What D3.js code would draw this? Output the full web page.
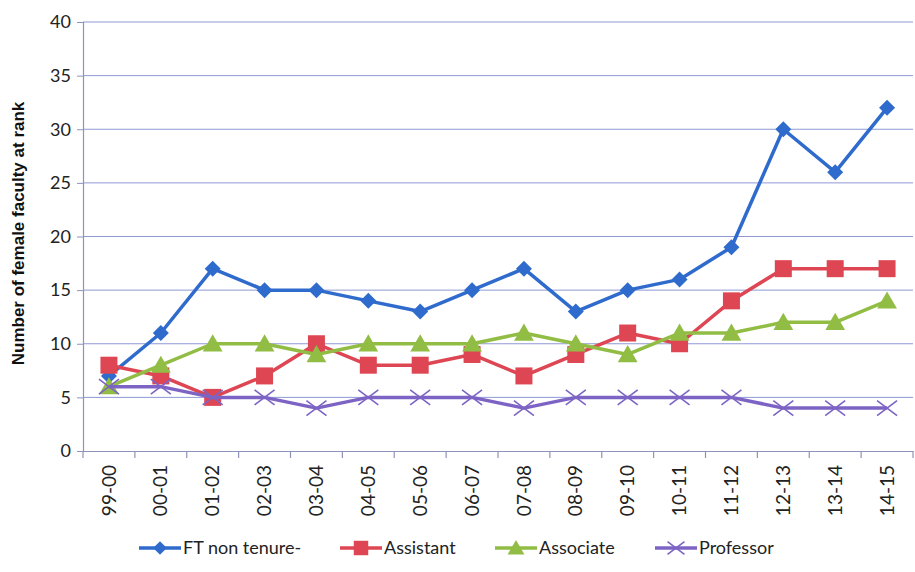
<!DOCTYPE html>
<html>
<head>
<meta charset="utf-8">
<script src="https://cdn.jsdelivr.net/npm/d3@7"></script>
<style>
  html, body { margin: 0; padding: 0; background: #fff; }
  svg { display: block; }
</style>
</head>
<body>
<svg id="chart" width="915" height="572"></svg>
<script>
// Academic years on the category axis
const years = ["99-00","00-01","01-02","02-03","03-04","04-05","05-06","06-07",
               "07-08","08-09","09-10","10-11","11-12","12-13","13-14","14-15"];

// Female faculty counts per rank
const ftNonTenure = [7, 11, 17, 15, 15, 14, 13, 15, 17, 13, 15, 16, 19, 30, 26, 32];
const assistant   = [8, 7, 5, 7, 10, 8, 8, 9, 7, 9, 11, 10, 14, 17, 17, 17];
const associate   = [6, 8, 10, 10, 9, 10, 10, 10, 11, 10, 9, 11, 11, 12, 12, 14];
const professor   = [6, 6, 5, 5, 4, 5, 5, 5, 4, 5, 5, 5, 5, 4, 4, 4];

const yTicks = [0, 5, 10, 15, 20, 25, 30, 35, 40];
const seriesNames = ["FT non tenure-", "Assistant", "Associate", "Professor"];

const series = [
  { name: seriesNames[0], values: ftNonTenure, color: "#2f6bcc", marker: "diamond" },
  { name: seriesNames[1], values: assistant,   color: "#dd4652", marker: "square" },
  { name: seriesNames[2], values: associate,   color: "#92bd45", marker: "triangle" },
  { name: seriesNames[3], values: professor,   color: "#7d64c4", marker: "cross" }
];

const svg = d3.select("#chart");
const plotLeft = 83, plotRight = 913, plotTop = 22, plotBottom = 451;

const x = d3.scaleBand().domain(years).range([plotLeft, plotRight]).paddingInner(0).paddingOuter(0);
const y = d3.scaleLinear().domain([0, 40]).range([plotBottom, plotTop]);
const cx = d => x(d) + x.bandwidth() / 2;

const font = "Lato, 'Open Sans', sans-serif";
const gridColor = "#8f99d6";
const axisColor = "#8f93b8";

// Horizontal gridlines
svg.append("g")
  .selectAll("line")
  .data(yTicks.filter(t => t > 0))
  .join("line")
  .attr("x1", plotLeft).attr("x2", plotRight)
  .attr("y1", d => y(d)).attr("y2", d => y(d))
  .attr("stroke", gridColor).attr("stroke-width", 1);

// Y axis
const yAxis = svg.append("g")
  .attr("transform", `translate(${plotLeft},0)`)
  .call(d3.axisLeft(y).tickValues(yTicks).tickSize(6).tickPadding(6));
yAxis.select(".domain").attr("stroke", axisColor).attr("stroke-width", 1.2);
yAxis.selectAll(".tick line").attr("stroke", axisColor);
yAxis.selectAll(".tick text")
  .attr("font-family", font).attr("font-size", 18).attr("fill", "#222");

// X axis with ticks at category boundaries
const xAxis = svg.append("g")
  .attr("transform", `translate(0,${plotBottom})`)
  .call(d3.axisBottom(x).tickSize(0).tickPadding(0));
xAxis.select(".domain").attr("stroke", axisColor).attr("stroke-width", 1.2);
xAxis.selectAll(".tick text")
  .attr("font-family", font).attr("font-size", 19).attr("fill", "#222")
  .attr("transform", "rotate(-90)")
  .attr("text-anchor", "end")
  .attr("x", -14).attr("y", 0).attr("dy", "0.35em");
svg.append("g")
  .selectAll("line")
  .data(d3.range(years.length + 1))
  .join("line")
  .attr("x1", i => plotLeft + i * x.bandwidth()).attr("x2", i => plotLeft + i * x.bandwidth())
  .attr("y1", plotBottom).attr("y2", plotBottom + 7)
  .attr("stroke", axisColor).attr("stroke-width", 1.2);

// Y axis title
svg.append("text")
  .attr("transform", `translate(24,${(85 + 382) / 2}) rotate(-90)`)
  .attr("text-anchor", "middle")
  .attr("font-family", "'Liberation Sans', Arial, sans-serif")
  .attr("font-weight", "bold").attr("font-size", 17).attr("fill", "#111")
  .text("Number of female faculty at rank");

// Marker shapes
function drawMarker(g, type, color, px, py, s) {
  if (type === "diamond") {
    g.append("path")
      .attr("d", `M${px},${py - s}L${px + s},${py}L${px},${py + s}L${px - s},${py}Z`)
      .attr("fill", color);
  } else if (type === "square") {
    g.append("rect")
      .attr("x", px - s).attr("y", py - s).attr("width", 2 * s).attr("height", 2 * s)
      .attr("fill", color);
  } else if (type === "triangle") {
    g.append("path")
      .attr("d", `M${px},${py - s * 1.05}L${px + s * 1.1},${py + s * 0.85}L${px - s * 1.1},${py + s * 0.85}Z`)
      .attr("fill", color);
  } else {
    g.append("path")
      .attr("d", `M${px - s},${py - s * 0.75}L${px + s},${py + s * 0.75}M${px - s},${py + s * 0.75}L${px + s},${py - s * 0.75}`)
      .attr("stroke", color).attr("stroke-width", 1.6).attr("fill", "none");
  }
}
const markerSize = { diamond: 8, square: 8.5, triangle: 9, cross: 10 };

const line = d3.line().x((d, i) => cx(years[i])).y(d => y(d));

// Series lines and markers
series.forEach(s => {
  const g = svg.append("g");
  g.append("path")
    .attr("d", line(s.values))
    .attr("fill", "none").attr("stroke", s.color)
    .attr("stroke-width", 3.5).attr("stroke-linejoin", "round");
  s.values.forEach((v, i) => drawMarker(g, s.marker, s.color, cx(years[i]), y(v), markerSize[s.marker]));
});

// Legend
const legendX = [139, 340, 495, 655];
const legendY = 548;
series.forEach((s, i) => {
  const g = svg.append("g");
  const x0 = legendX[i];
  g.append("line")
    .attr("x1", x0).attr("x2", x0 + 42)
    .attr("y1", legendY).attr("y2", legendY)
    .attr("stroke", s.color).attr("stroke-width", 3.5);
  drawMarker(g, s.marker, s.color, x0 + 21, legendY, markerSize[s.marker] * 0.85);
  g.append("text")
    .attr("x", x0 + 44).attr("y", legendY).attr("dy", "0.35em")
    .attr("font-family", font).attr("font-size", 18).attr("fill", "#222")
    .text(s.name);
});
</script>
</body>
</html>
